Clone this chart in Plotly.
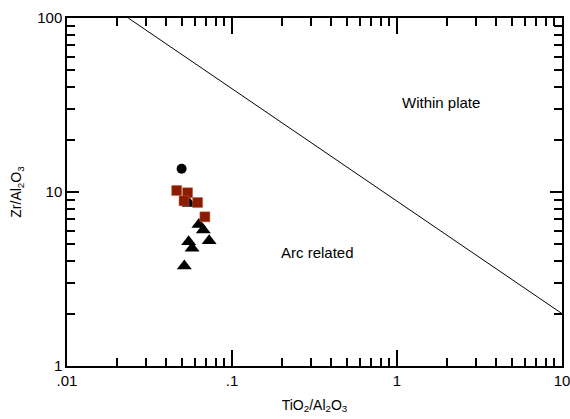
import plotly.graph_objects as go

# Data (TiO2/Al2O3, Zr/Al2O3)
circle_x = [0.0495]
circle_y = [13.6]

square_x = [0.0462, 0.0538, 0.0512, 0.0619, 0.0685]
square_y = [10.2, 9.9, 8.9, 8.7, 7.2]

tri_x = [0.0551, 0.063, 0.067, 0.0727, 0.0546, 0.0573, 0.0514]
tri_y = [8.6, 6.5, 6.05, 5.25, 5.18, 4.75, 3.76]

line_x = [0.0235, 10]
line_y = [100, 2]

x_ticks = [0.01, 0.1, 1, 10]
x_ticktext = [".01", ".1", "1", "10"]
y_ticks = [1, 10, 100]
y_ticktext = ["1", "10", "100"]

minor_x = [m * d for d in [0.01, 0.1, 1] for m in range(2, 10)]
minor_y = [m * d for d in [1, 10] for m in range(2, 10)]

fig = go.Figure()
fig.add_trace(go.Scatter(x=line_x, y=line_y, mode="lines",
                         line=dict(color="black", width=1), showlegend=False))
fig.add_trace(go.Scatter(x=tri_x, y=tri_y, mode="markers",
                         marker=dict(symbol="triangle-up", size=13, color="black"),
                         showlegend=False))
fig.add_trace(go.Scatter(x=circle_x, y=circle_y, mode="markers",
                         marker=dict(symbol="circle", size=10, color="black"),
                         showlegend=False))
fig.add_trace(go.Scatter(x=square_x, y=square_y, mode="markers",
                         marker=dict(symbol="square", size=10, color="#8B1C00",
                                     line=dict(color="#C06040", width=0.5)),
                         showlegend=False))

fig.add_annotation(x=0.267, y=1.517, xref="x", yref="y", text="Within plate",
                   showarrow=False, font=dict(size=15, color="black"))
fig.add_annotation(x=-0.479, y=0.655, xref="x", yref="y", text="Arc related",
                   showarrow=False, font=dict(size=15, color="black"))

fig.update_layout(
    width=570, height=419,
    margin=dict(l=67, r=8, t=18, b=53),
    plot_bgcolor="white", paper_bgcolor="white",
    font=dict(family="Liberation Sans, Arial, sans-serif", size=15, color="black"),
)
fig.update_xaxes(type="log", range=[-2, 1], showgrid=False, zeroline=False,
                 automargin=False, ticklabeloverflow="allow",
                 showline=True, linecolor="black", linewidth=1.5, mirror="allticks",
                 ticks="inside", ticklen=16, tickwidth=1.5, tickcolor="black",
                 tickvals=x_ticks, ticktext=x_ticktext,
                 minor=dict(ticks="inside", ticklen=8, tickwidth=1.5, tickcolor="black",
                            tickvals=minor_x, showgrid=False),
                 title=dict(text="TiO<sub>2</sub>/Al<sub>2</sub>O<sub>3</sub>",
                            font=dict(size=14), standoff=12))
fig.update_yaxes(type="log", range=[0, 2], showgrid=False, zeroline=False,
                 automargin=False, ticklabeloverflow="allow",
                 showline=True, linecolor="black", linewidth=1.5, mirror="allticks",
                 ticks="inside", ticklen=12, tickwidth=1.5, tickcolor="black",
                 tickvals=y_ticks, ticktext=y_ticktext,
                 minor=dict(ticks="inside", ticklen=8, tickwidth=1.5, tickcolor="black",
                            tickvals=minor_y, showgrid=False),
                 title=dict(text="Zr/Al<sub>2</sub>O<sub>3</sub>",
                            font=dict(size=14), standoff=12))

fig.write_html("out.html", config={"displayModeBar": False},
               post_script="document.body.style.margin='0';")
